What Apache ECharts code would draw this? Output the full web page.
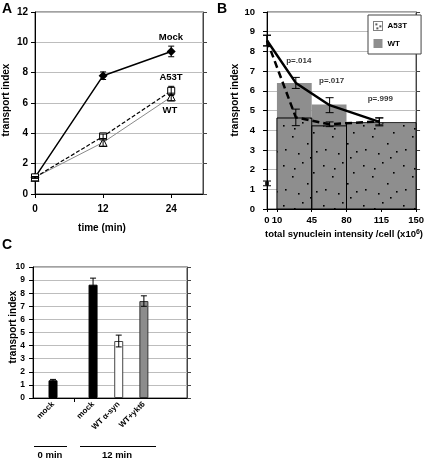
<!DOCTYPE html>
<html><head><meta charset="utf-8">
<script src="https://cdn.jsdelivr.net/npm/echarts@6/dist/echarts.min.js"></script>
<style>html,body{margin:0;padding:0;background:#fff}#c{width:427px;height:458px}</style>
</head><body><div id="c"></div>
<script>
// ---------- Panel A data ----------
const timesA = [0, 12, 24];
const mockA = [1.1, 7.8, 9.4];
const mockErrA = [0.05, 0.25, 0.35];
const a53tA = [1.1, 3.8, 6.8];
const a53tErrA = [0.05, 0.15, 0.3];
const wtA = [1.1, 3.4, 6.4];
const wtErrA = [0.05, 0.25, 0.25];
const ticksA_x = [0, 12, 24];

// ---------- Panel B data ----------
const binStartB = [10, 45, 80];
const binEndB = [45, 80, 150];
const wtBarsB = [6.4, 5.3, 4.35];
const a53tBarsB = [4.62, 4.22, 4.38];
const lineXB = [0, 29, 63, 113];
const wtLineB = [8.55, 6.4, 5.27, 4.42];
const wtLineErrB = [0.27, 0.28, 0.38, 0.2];
const a53tLineB = [8.55, 4.65, 4.3, 4.45];
const a53tLineErrB = [0.27, 0.42, 0.12, 0.18];
const ctrlXB = [0];
const ctrlB = [1.3];
const ctrlErrB = [0.12];
const ticksB_x = [0, 10, 45, 80, 115, 150];
const pLabelsB = ['p=.014', 'p=.017', 'p=.999'];
const pXB = [32, 65, 114];
const pYB = [7.5, 6.5, 5.6];

// ---------- Panel C data ----------
const catsC = ['mock', 'mock', 'WT \u03b1-syn', 'WT+ykt6'];
const posC = [0.78, 2.34, 3.34, 4.32];
const valsC = [1.35, 8.65, 4.35, 7.4];
const errsC = [0.07, 0.5, 0.45, 0.4];
const gapTickC = [1.59];
const groupsC = ['0 min', '12 min'];

// ---------- styles ----------
const FF = '"Liberation Sans", Arial, Helvetica, sans-serif';
const barFillsC = ['#000', '#000', '#fff', '#8c8c8c'];
const barBordersC = ['#000', '#000', '#444', '#333'];
const grayB = '#8e8e8e';

function dotCanvas(w, h, pts, bg) {
  const c = document.createElement('canvas');
  c.width = w; c.height = h;
  const g = c.getContext('2d');
  if (bg) { g.fillStyle = bg; g.fillRect(0, 0, w, h); }
  g.fillStyle = '#000';
  pts.forEach(p => { g.fillRect(p[0], p[1], 1.6, 1.6); });
  return c;
}
const dotTile = dotCanvas(40, 40, [[3,5],[22,2],[33,12],[12,16],[27,23],[5,29],[18,33],[36,31],[14,8],[30,37]], null);
const legendTile = dotCanvas(9, 9, [[2,2],[6,4],[3,6]], '#fff');

function errSeries(name, xi, yi, xs, ys, es, cap) {
  return {
    type: 'custom', name: name, xAxisIndex: xi, yAxisIndex: yi, z: 5,
    data: xs.map((x, i) => [x, ys[i], es[i]]),
    encode: { x: 0, y: 1 },
    renderItem: function (params, api) {
      const x = api.value(0), y = api.value(1), e = api.value(2);
      const t = api.coord([x, y + e]), b = api.coord([x, y - e]);
      const st = { stroke: '#000', lineWidth: 1 };
      return { type: 'group', children: [
        { type: 'line', shape: { x1: t[0], y1: t[1], x2: b[0], y2: b[1] }, style: st },
        { type: 'line', shape: { x1: t[0] - cap, y1: t[1], x2: t[0] + cap, y2: t[1] }, style: st },
        { type: 'line', shape: { x1: b[0] - cap, y1: b[1], x2: b[0] + cap, y2: b[1] }, style: st }
      ]};
    }
  };
}
function rectSeries(name, xi, yi, starts, ends, vals, fill, stroke) {
  return {
    type: 'custom', name: name, xAxisIndex: xi, yAxisIndex: yi, z: 2,
    data: starts.map((s, i) => [s, ends[i], vals[i]]),
    encode: { x: [0, 1], y: 2 },
    itemStyle: { color: name === 'WT' ? grayB : '#fff' },
    renderItem: function (params, api) {
      const p0 = api.coord([api.value(0), api.value(2)]);
      const p1 = api.coord([api.value(1), 0]);
      return { type: 'rect', shape: { x: p0[0], y: p0[1], width: p1[0] - p0[0], height: p1[1] - p0[1] },
        style: { fill: fill, stroke: stroke, lineWidth: stroke ? 1 : 0 } };
    }
  };
}

const lbl = (size) => ({ fontFamily: FF, fontWeight: 'bold', fontSize: size, color: '#000' });
function leftY(grid, max, interval, margin, size) {
  return { type: 'value', gridIndex: grid, min: 0, max: max, interval: interval, position: 'left',
    axisLine: { show: true, lineStyle: { color: '#000' } },
    axisTick: { show: true, length: 4, lineStyle: { color: '#000' } },
    axisLabel: Object.assign({ margin: margin }, lbl(size)),
    splitLine: { show: true, lineStyle: { color: '#bdbdbd', width: 1 } } };
}
function rightY(grid, max, interval) {
  return { type: 'value', gridIndex: grid, min: 0, max: max, interval: interval, position: 'right',
    axisLine: { show: true, lineStyle: { color: '#444' } },
    axisTick: { show: true, length: 4, lineStyle: { color: '#444' } },
    axisLabel: { show: false }, splitLine: { show: false } };
}

const chart = echarts.init(document.getElementById('c'), null, { renderer: 'canvas' });
chart.setOption({
  backgroundColor: '#fff',
  animation: false,
  grid: [
    { left: 35, top: 12, width: 168, height: 182, show: true, borderColor: '#444', borderWidth: 1 },
    { left: 267, top: 12, width: 155, height: 197, show: true, borderColor: '#444', borderWidth: 1 },
    { left: 33, top: 267, width: 154, height: 131, show: true, borderColor: '#444', borderWidth: 1 }
  ],
  xAxis: [
    { type: 'value', gridIndex: 0, min: 0, max: 29.6,
      axisLine: { show: true, lineStyle: { color: '#000' } },
      axisTick: { show: true, length: 4, customValues: ticksA_x, lineStyle: { color: '#000' } },
      axisLabel: Object.assign({ margin: 10, customValues: ticksA_x }, lbl(10)),
      splitLine: { show: false } },
    { type: 'value', gridIndex: 1, min: 0, max: 150,
      axisLine: { show: true, lineStyle: { color: '#000' } },
      axisTick: { show: true, length: 3, customValues: ticksB_x, lineStyle: { color: '#000' } },
      axisLabel: Object.assign({ margin: 6, customValues: ticksB_x }, lbl(9.5)),
      splitLine: { show: false } },
    { type: 'value', gridIndex: 2, min: 0, max: 6,
      axisLine: { show: true, lineStyle: { color: '#000' } },
      axisTick: { show: true, length: 4, customValues: gapTickC, lineStyle: { color: '#000' } },
      axisLabel: Object.assign({ margin: 5, rotate: 45, customValues: posC,
        formatter: v => { const i = posC.findIndex(p => Math.abs(p - v) < 0.01); return i >= 0 ? catsC[i] : ''; } }, lbl(8)),
      splitLine: { show: false } }
  ],
  yAxis: [
    leftY(0, 12, 2, 7, 10), rightY(0, 12, 2),
    leftY(1, 10, 1, 12, 9.5), rightY(1, 10, 1),
    leftY(2, 10, 1, 8, 8.5), rightY(2, 10, 1)
  ],
  legend: {
    data: [
      { name: 'A53T', icon: 'rect', itemStyle: { color: { image: legendTile, repeat: 'repeat' }, borderColor: '#000', borderWidth: 1, borderType: 'dotted' } },
      { name: 'WT', icon: 'rect', itemStyle: { color: grayB, borderWidth: 0 } }
    ],
    left: 368, top: 15, orient: 'vertical', itemWidth: 9, itemHeight: 9, itemGap: 8,
    padding: [6, 14, 6, 5], borderColor: '#444', borderWidth: 1, backgroundColor: '#fff',
    selectedMode: false, textStyle: lbl(8), z: 10
  },
  series: [
    // Panel A
    { type: 'line', name: 'Mock', xAxisIndex: 0, yAxisIndex: 0, data: timesA.map((t, i) => [t, mockA[i]]),
      symbol: 'diamond', symbolSize: 9, itemStyle: { color: '#000' }, lineStyle: { color: '#000', width: 1.5 }, z: 3 },
    { type: 'line', name: 'WT A', xAxisIndex: 0, yAxisIndex: 0, data: timesA.map((t, i) => [t, wtA[i]]),
      symbol: 'triangle', symbolSize: 8, itemStyle: { color: '#fff', borderColor: '#000', borderWidth: 1 },
      lineStyle: { color: '#8a8a8a', width: 1 }, z: 3 },
    { type: 'line', name: 'A53T A', xAxisIndex: 0, yAxisIndex: 0, data: timesA.map((t, i) => [t, a53tA[i]]),
      symbol: 'rect', symbolSize: 7, itemStyle: { color: '#fff', borderColor: '#000', borderWidth: 1 },
      lineStyle: { color: '#000', width: 1.2, type: [4, 2] }, z: 4 },
    errSeries('errMock', 0, 0, timesA, mockA, mockErrA, 3),
    errSeries('errA53T', 0, 0, timesA, a53tA, a53tErrA, 3),
    errSeries('errWT', 0, 0, timesA, wtA, wtErrA, 3),
    // Panel B
    rectSeries('WT', 1, 2, binStartB, binEndB, wtBarsB, grayB, null),
    rectSeries('A53T', 1, 2, binStartB, binEndB, a53tBarsB, { image: dotTile, repeat: 'repeat' }, '#000'),
    { type: 'line', name: 'WT line', xAxisIndex: 1, yAxisIndex: 2, data: lineXB.map((x, i) => [x, wtLineB[i]]),
      showSymbol: false, symbol: 'none', lineStyle: { color: '#000', width: 2.5 }, z: 4 },
    { type: 'line', name: 'A53T line', xAxisIndex: 1, yAxisIndex: 2, data: lineXB.map((x, i) => [x, a53tLineB[i]]),
      showSymbol: false, symbol: 'none', lineStyle: { color: '#000', width: 2.5, type: [7, 4] }, z: 4 },
    errSeries('errWTB', 1, 2, lineXB, wtLineB, wtLineErrB, 4),
    errSeries('errA53TB', 1, 2, lineXB, a53tLineB, a53tLineErrB, 4),
    { type: 'scatter', name: 'ctrl', xAxisIndex: 1, yAxisIndex: 2, data: ctrlXB.map((x, i) => [x, ctrlB[i]]),
      symbol: 'rect', symbolSize: 4, itemStyle: { color: '#000' }, clip: false, z: 6 },
    errSeries('errCtrl', 1, 2, ctrlXB, ctrlB, ctrlErrB, 4),
    { type: 'scatter', name: 'pvals', xAxisIndex: 1, yAxisIndex: 2, symbolSize: 0, z: 7,
      data: pXB.map((x, i) => ({ value: [x, pYB[i]], label: { formatter: pLabelsB[i] } })),
      label: Object.assign({ show: true, position: 'inside' }, lbl(8)) },
    // Panel C
    { type: 'bar', name: 'C', xAxisIndex: 2, yAxisIndex: 4, barWidth: 9, z: 2,
      data: posC.map((x, i) => ({ value: [x, valsC[i]], itemStyle: { color: barFillsC[i], borderColor: barBordersC[i], borderWidth: 1 } })) },
    errSeries('errC', 2, 4, posC, valsC, errsC, 3)
  ],
  graphic: [
    { type: 'text', left: 2, top: 2, style: { text: 'A', font: 'bold 14px ' + FF, fill: '#000' } },
    { type: 'text', left: 217, top: 2, style: { text: 'B', font: 'bold 14px ' + FF, fill: '#000' } },
    { type: 'text', left: 2, top: 238, style: { text: 'C', font: 'bold 14px ' + FF, fill: '#000' } },
    { type: 'text', x: 6, y: 100, rotation: Math.PI / 2, style: { text: 'transport index', font: 'bold 10px ' + FF, fill: '#000', align: 'center', verticalAlign: 'middle' } },
    { type: 'text', x: 235, y: 100, rotation: Math.PI / 2, style: { text: 'transport index', font: 'bold 10px ' + FF, fill: '#000', align: 'center', verticalAlign: 'middle' } },
    { type: 'text', x: 13, y: 327, rotation: Math.PI / 2, style: { text: 'transport index', font: 'bold 10px ' + FF, fill: '#000', align: 'center', verticalAlign: 'middle' } },
    { type: 'text', x: 102, y: 228, style: { text: 'time (min)', font: 'bold 10px ' + FF, fill: '#000', align: 'center', verticalAlign: 'middle' } },
    { type: 'text', x: 344, y: 234, style: { rich: { b: { font: 'bold 9.5px ' + FF, fill: '#000' }, s: { font: 'bold 7px ' + FF, fill: '#000', verticalAlign: 'top', padding: [0,0,4,0] } },
        text: '{b|total synuclein intensity /cell (x10}{s|6}{b|)}', align: 'center', verticalAlign: 'middle' } },
    { type: 'text', x: 171, y: 37, style: { text: 'Mock', font: 'bold 9.5px ' + FF, fill: '#000', align: 'center', verticalAlign: 'middle' } },
    { type: 'text', x: 171, y: 77.5, style: { text: 'A53T', font: 'bold 9.5px ' + FF, fill: '#000', align: 'center', verticalAlign: 'middle' } },
    { type: 'text', x: 170, y: 110.5, style: { text: 'WT', font: 'bold 9.5px ' + FF, fill: '#000', align: 'center', verticalAlign: 'middle' } },
    { type: 'line', shape: { x1: 34, y1: 446.5, x2: 67, y2: 446.5 }, style: { stroke: '#000', lineWidth: 1 } },
    { type: 'line', shape: { x1: 80, y1: 446.5, x2: 156, y2: 446.5 }, style: { stroke: '#000', lineWidth: 1 } },
    { type: 'text', x: 50, y: 455, style: { text: groupsC[0], font: 'bold 9.5px ' + FF, fill: '#000', align: 'center', verticalAlign: 'middle' } },
    { type: 'text', x: 117, y: 455, style: { text: groupsC[1], font: 'bold 9.5px ' + FF, fill: '#000', align: 'center', verticalAlign: 'middle' } }
  ]
});
</script></body></html>
